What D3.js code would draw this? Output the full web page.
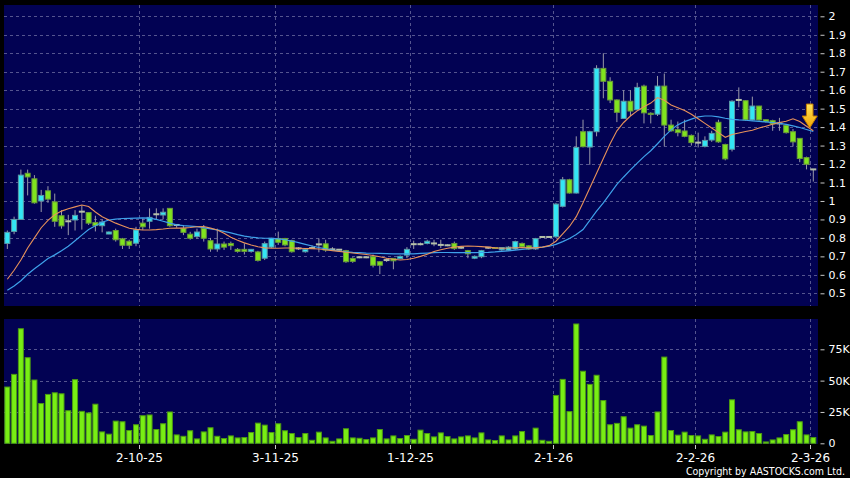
<!DOCTYPE html>
<html><head><meta charset="utf-8">
<script src="https://cdn.jsdelivr.net/npm/d3@7"></script>
<style>
html,body{margin:0;padding:0;background:#000;}
svg{display:block;}
</style></head><body>
<svg id="chart" width="850" height="478"></svg>
<script>
// ---------- DATA ----------
const dates = [
"3-9-25","4-9-25","5-9-25","8-9-25","9-9-25","10-9-25","11-9-25","12-9-25","15-9-25","16-9-25","17-9-25","18-9-25","19-9-25","22-9-25","23-9-25","24-9-25","25-9-25","26-9-25","29-9-25","30-9-25",
"2-10-25","3-10-25","6-10-25","8-10-25","9-10-25","10-10-25","13-10-25","14-10-25","15-10-25","16-10-25","17-10-25","20-10-25","21-10-25","22-10-25","23-10-25","24-10-25","27-10-25","28-10-25","30-10-25","31-10-25",
"3-11-25","4-11-25","5-11-25","6-11-25","7-11-25","10-11-25","11-11-25","12-11-25","13-11-25","14-11-25","17-11-25","18-11-25","19-11-25","20-11-25","21-11-25","24-11-25","25-11-25","26-11-25","27-11-25","28-11-25",
"1-12-25","2-12-25","3-12-25","4-12-25","5-12-25","8-12-25","9-12-25","10-12-25","11-12-25","12-12-25","15-12-25","16-12-25","17-12-25","18-12-25","19-12-25","22-12-25","23-12-25","24-12-25","29-12-25","30-12-25","31-12-25",
"2-1-26","5-1-26","6-1-26","7-1-26","8-1-26","9-1-26","12-1-26","13-1-26","14-1-26","15-1-26","16-1-26","19-1-26","20-1-26","21-1-26","22-1-26","23-1-26","26-1-26","27-1-26","28-1-26","29-1-26","30-1-26",
"2-2-26","3-2-26","4-2-26","5-2-26","6-2-26","9-2-26","10-2-26","11-2-26","12-2-26","13-2-26","16-2-26","20-2-26","23-2-26","24-2-26","25-2-26","26-2-26","27-2-26",
"2-3-26"];

const open = [
.77,.835,.90,1.15,1.12,1.00,1.055,.995,.92,.89,
.897,.942,.937,.883,.866,.821,.84,.795,.782,.771,
.88,.89,.928,.924,.96,.87,.852,.82,.807,.852,
.785,.74,.767,.77,.738,.738,.727,.724,.69,.75,
.797,.797,.785,.743,.725,.745,.765,.768,.738,.736,
.731,.689,.695,.695,.698,.671,.68,.689,.688,.707,
.766,.766,.77,.77,.762,.76,.77,.747,.731,.69,
.698,.747,.748,.735,.733,.74,.77,.757,.74,.805,
.805,.806,.971,1.115,1.043,1.375,1.292,1.375,1.718,1.648,
1.547,1.447,1.54,1.494,1.622,1.475,1.47,1.622,1.411,1.386,
1.379,1.355,1.316,1.296,1.33,1.426,1.306,1.28,1.547,1.543,
1.439,1.514,1.44,1.435,1.42,1.41,1.375,1.339,1.235,1.171];

const high = [
.84,.915,1.17,1.17,1.14,1.06,1.08,1.04,.95,.925,
.95,.975,.94,.92,.898,.835,.85,.80,.79,.86,
.905,.96,.96,.96,.962,.875,.87,.833,.85,.87,
.80,.85,.78,.78,.745,.77,.74,.73,.78,.80,
.834,.80,.79,.75,.745,.76,.797,.79,.75,.74,
.735,.695,.70,.70,.71,.675,.69,.69,.705,.75,
.785,.775,.79,.79,.79,.765,.78,.75,.735,.705,
.735,.75,.75,.75,.755,.785,.775,.76,.80,.81,
.81,.99,1.13,1.12,1.35,1.44,1.38,1.735,1.80,1.67,
1.55,1.60,1.60,1.64,1.63,1.48,1.677,1.69,1.44,1.43,
1.44,1.36,1.37,1.35,1.38,1.44,1.31,1.545,1.615,1.545,
1.565,1.515,1.44,1.44,1.45,1.415,1.39,1.34,1.24,1.171];

const low = [
.74,.82,.90,1.03,.985,.94,.99,.86,.85,.815,
.84,.845,.87,.835,.83,.82,.78,.74,.74,.755,
.843,.85,.90,.90,.86,.855,.815,.79,.795,.78,
.725,.725,.735,.735,.72,.71,.72,.672,.68,.745,
.762,.755,.72,.735,.72,.74,.722,.725,.73,.73,
.665,.665,.69,.69,.64,.604,.67,.63,.685,.69,
.74,.76,.765,.755,.745,.755,.735,.74,.69,.685,
.69,.74,.74,.73,.73,.735,.745,.735,.735,.80,
.80,.80,.965,1.04,1.04,1.29,1.196,1.35,1.556,1.53,
1.427,1.445,1.46,1.49,1.42,1.42,1.46,1.296,1.375,1.35,
1.345,1.30,1.29,1.29,1.32,1.315,1.22,1.268,1.507,1.435,
1.435,1.435,1.425,1.38,1.38,1.365,1.295,1.21,1.171,1.105];

const close = [
.83,.90,1.14,1.13,.99,1.03,1.01,.89,.865,.89,
.922,.942,.88,.867,.886,.832,.79,.76,.76,.843,
.86,.911,.928,.939,.866,.87,.83,.798,.832,.798,
.74,.767,.75,.758,.727,.727,.738,.678,.769,.798,
.776,.762,.725,.743,.738,.745,.765,.734,.738,.736,
.671,.673,.695,.695,.652,.652,.68,.676,.70,.738,
.766,.766,.782,.77,.762,.76,.742,.747,.714,.70,
.731,.747,.745,.748,.75,.78,.752,.74,.796,.805,
.805,.983,1.115,1.043,1.29,1.294,1.375,1.718,1.648,1.547,
1.48,1.54,1.487,1.615,1.477,1.468,1.622,1.411,1.38,1.37,
1.35,1.316,1.316,1.328,1.366,1.32,1.228,1.54,1.547,1.439,
1.514,1.439,1.43,1.417,1.42,1.37,1.32,1.23,1.199,1.171];

// volume in thousands of shares
const volume = [
44.9,55,91.4,68.3,50.5,31.7,39,40.3,39.5,26,
50.8,25.5,24.2,31.2,9.1,7.3,17.7,17.2,10.2,14.8,
22,22.6,11,15.6,25,6.7,5.6,10,3.5,9.1,
12.4,5.6,3.8,5.9,4.3,4.6,8.6,16.1,14.5,8.6,
15.6,10,7.8,4.6,7.8,2.4,8.9,4.3,1.6,3.5,
11.6,4.3,4,3,4.3,11,3.5,5.9,3.8,6.2,
3.2,10.5,7.8,5.1,8.3,5.4,3.5,5.1,5.9,4.3,
8.3,2.7,2.2,5.9,2.7,5.9,9.4,2.4,12.1,2.4,
1.6,38.2,51,25.3,95.2,57.5,47,54.3,34.1,14.8,
15.9,21.2,12.1,14.8,13.7,6.2,25,68.8,10.2,6.5,
8.9,6.2,5.9,3.2,6.7,5.4,8.9,34.7,10.8,9.1,
9.4,7.8,1.1,2.7,4.3,7,10.8,17.2,6.7,4.6];

// short moving average (orange)
const maShort = [
.576,.625,.68,.745,.80,.855,.895,.925,.945,.958,
.968,.978,.97,.94,.915,.897,.88,.866,.852,.846,
.843,.843,.845,.848,.852,.853,.853,.856,.86,.862,
.853,.843,.825,.803,.787,.773,.762,.752,.746,.744,
.744,.745,.745,.744,.743,.742,.74,.736,.731,.727,
.722,.718,.714,.71,.705,.698,.69,.684,.68,.683,
.69,.70,.712,.726,.736,.744,.75,.754,.756,.755,
.753,.75,.746,.744,.745,.747,.748,.746,.746,.75,
.758,.782,.822,.862,.915,.99,1.07,1.15,1.23,1.31,
1.38,1.425,1.46,1.488,1.51,1.53,1.56,1.545,1.52,1.505,
1.49,1.47,1.445,1.42,1.395,1.37,1.345,1.36,1.368,1.376,
1.383,1.395,1.405,1.415,1.425,1.432,1.445,1.43,1.405,1.38];

// long moving average (blue)
const maLong = [
.516,.54,.568,.603,.633,.66,.688,.708,.73,.755,
.785,.815,.845,.866,.885,.897,.902,.905,.906,.907,
.908,.907,.90,.89,.88,.871,.866,.864,.861,.856,
.849,.843,.835,.827,.818,.81,.804,.80,.798,.797,
.795,.79,.783,.774,.765,.756,.748,.741,.734,.729,
.725,.722,.72,.718,.717,.716,.715,.714,.713,.713,
.714,.716,.718,.72,.721,.721,.72,.72,.72,.72,
.721,.722,.724,.727,.73,.734,.738,.742,.746,.75,
.755,.765,.78,.797,.818,.845,.895,.945,.99,1.04,
1.09,1.13,1.168,1.205,1.24,1.272,1.31,1.35,1.385,1.412,
1.43,1.443,1.455,1.46,1.46,1.455,1.448,1.442,1.439,1.437,
1.434,1.431,1.428,1.424,1.42,1.415,1.407,1.398,1.387,1.376];

const dateTicks = ["2-10-25","3-11-25","1-12-25","2-1-26","2-2-26","2-3-26"];
const priceTicks = [2,1.9,1.8,1.7,1.6,1.5,1.4,1.3,1.2,1.1,1,0.9,0.8,0.7,0.6,0.5];
const priceTickLabels = ["2","1.9","1.8","1.7","1.6","1.5","1.4","1.3","1.2","1.1","1","0.9","0.8","0.7","0.6","0.5"];
const volumeTicks = [0,25,50,75];
const volumeTickLabels = ["0","25K","50K","75K"];

// ---------- CHART ----------
const svg = d3.select("#chart");
const FONT = "'DejaVu Sans', Verdana, sans-serif";
const navy = "#020253";
const gridColor = "#55558f";

const pricePanel = {x0: 4, x1: 818, y0: 5, y1: 306};
const volPanel = {x0: 4, x1: 818, y0: 319, y1: 444};

svg.append("rect").attr("width", 850).attr("height", 478).attr("fill", "#000");
[pricePanel, volPanel].forEach(p => {
  svg.append("rect").attr("x", p.x0).attr("y", p.y0)
    .attr("width", p.x1 - p.x0).attr("height", p.y1 - p.y0).attr("fill", navy);
});

const n = dates.length;
const x = d3.scaleLinear().domain([0, n - 1]).range([7.33, 813.3]);
const half = (x(1) - x(0)) / 2;
const yP = d3.scaleLinear().domain([0.5, 2]).range([293.3, 16.3]);
const yV = d3.scaleLinear().domain([0, 75]).range([443.3, 349.3]);

// horizontal grid
const grid = svg.append("g").attr("stroke", gridColor).attr("stroke-width", 1)
  .attr("stroke-dasharray", "3,3").attr("fill", "none");
priceTicks.forEach(v => {
  const y = Math.round(yP(v)) + 0.5;
  grid.append("line").attr("x1", pricePanel.x0).attr("x2", pricePanel.x1).attr("y1", y).attr("y2", y);
});
volumeTicks.filter(v => v > 0).forEach(v => {
  const y = Math.round(yV(v)) + 0.5;
  grid.append("line").attr("x1", volPanel.x0).attr("x2", volPanel.x1).attr("y1", y).attr("y2", y);
});
// vertical grid
const tickIdx = dateTicks.map(d => dates.indexOf(d));
tickIdx.forEach(i => {
  const gx = Math.round(x(i) - half) + 0.5;
  grid.append("line").attr("x1", gx).attr("x2", gx).attr("y1", pricePanel.y0).attr("y2", pricePanel.y1);
  grid.append("line").attr("x1", gx).attr("x2", gx).attr("y1", volPanel.y0).attr("y2", volPanel.y1);
});

// volume bars
svg.append("g").selectAll("rect").data(volume).join("rect")
  .attr("x", (d, i) => x(i) - 2.5)
  .attr("width", 5)
  .attr("y", d => yV(d))
  .attr("height", d => yV(0) - yV(d))
  .attr("fill", "#78ee14")
  .attr("stroke", "#4c9a12")
  .attr("stroke-width", 1);

// candles
const cyan = "#33e6f4", green = "#80e41e", dojiCol = "#b5c0a8";
const cg = svg.append("g");
d3.range(n).forEach(i => {
  const o = open[i], c = close[i];
  const up = c > o + 0.002, down = c < o - 0.002;
  cg.append("line")
    .attr("x1", x(i)).attr("x2", x(i))
    .attr("y1", yP(high[i])).attr("y2", yP(low[i]))
    .attr("stroke", "#9a9aa8").attr("stroke-width", 1);
  const top = yP(Math.max(o, c)), bot = yP(Math.min(o, c));
  if (up || down) {
    cg.append("rect")
      .attr("x", x(i) - 2.5).attr("width", 5)
      .attr("y", top).attr("height", Math.max(1, bot - top))
      .attr("fill", up ? cyan : green)
      .attr("stroke", up ? "#5a9aa6" : "#6a9a3a").attr("stroke-width", 1);
  } else {
    cg.append("rect")
      .attr("x", x(i) - 3).attr("width", 6)
      .attr("y", top - 1).attr("height", 2)
      .attr("fill", dojiCol);
  }
});

// moving averages
const line = d3.line().x((d, i) => x(i)).y(d => yP(d));
svg.append("path").datum(maLong).attr("d", line)
  .attr("fill", "none").attr("stroke", "#3fa2ea").attr("stroke-width", 1.2);
svg.append("path").datum(maShort).attr("d", line)
  .attr("fill", "none").attr("stroke", "#e8925a").attr("stroke-width", 1.1);

// arrow marker at last bar
const defs = svg.append("defs");
const grad = defs.append("linearGradient").attr("id", "ag").attr("x1", 0).attr("x2", 0).attr("y1", 0).attr("y2", 1);
grad.append("stop").attr("offset", "0%").attr("stop-color", "#ffe45a");
grad.append("stop").attr("offset", "100%").attr("stop-color", "#f4a400");
svg.append("path")
  .attr("transform", `translate(${x(n - 1) - 3.6},${yP(maLong[n - 1]) - 3.5})`)
  .attr("d", "M-3.3,-24 L3.3,-24 L3.3,-12 L7.5,-12 L0,0 L-7.5,-12 L-3.3,-12 Z")
  .attr("fill", "url(#ag)").attr("stroke", "#c27a00").attr("stroke-width", 1);

// right axes
const axP = d3.axisRight(yP).tickValues(priceTicks)
  .tickFormat((d, i) => priceTickLabels[i]).tickSizeInner(4).tickSizeOuter(0).tickPadding(4);
const gP = svg.append("g").attr("transform", "translate(820.5,0)").call(axP);
const axV = d3.axisRight(yV).tickValues(volumeTicks)
  .tickFormat((d, i) => volumeTickLabels[i]).tickSizeInner(4).tickSizeOuter(0).tickPadding(4);
const gV = svg.append("g").attr("transform", "translate(820.5,0)").call(axV);
[gP, gV].forEach(g => {
  g.select(".domain").remove();
  g.selectAll(".tick line").attr("stroke", "#c8c8c8");
  g.selectAll(".tick text").attr("fill", "#ffffff").style("font-family", FONT).style("font-size", "11px");
});

// bottom date axis
const gx = svg.append("g");
tickIdx.forEach((i, k) => {
  const tx = Math.round(x(i) - half) + 0.5;
  gx.append("line").attr("x1", tx).attr("x2", tx).attr("y1", 445).attr("y2", 449)
    .attr("stroke", "#c8c8c8");
  gx.append("text").attr("x", tx).attr("y", 461.5).attr("text-anchor", "middle")
    .attr("fill", "#fff").style("font-family", FONT).style("font-size", "12px")
    .text(dateTicks[k]);
});

svg.append("text").attr("x", 845).attr("y", 474.5).attr("text-anchor", "end")
  .attr("fill", "#fff")
  .style("font-family", "'DejaVu Sans Condensed', 'Liberation Sans Narrow', 'DejaVu Sans', sans-serif")
  .style("font-stretch", "condensed")
  .style("font-size", "10.5px")
  .text("Copyright by AASTOCKS.com Ltd.");
</script>
</body></html>
